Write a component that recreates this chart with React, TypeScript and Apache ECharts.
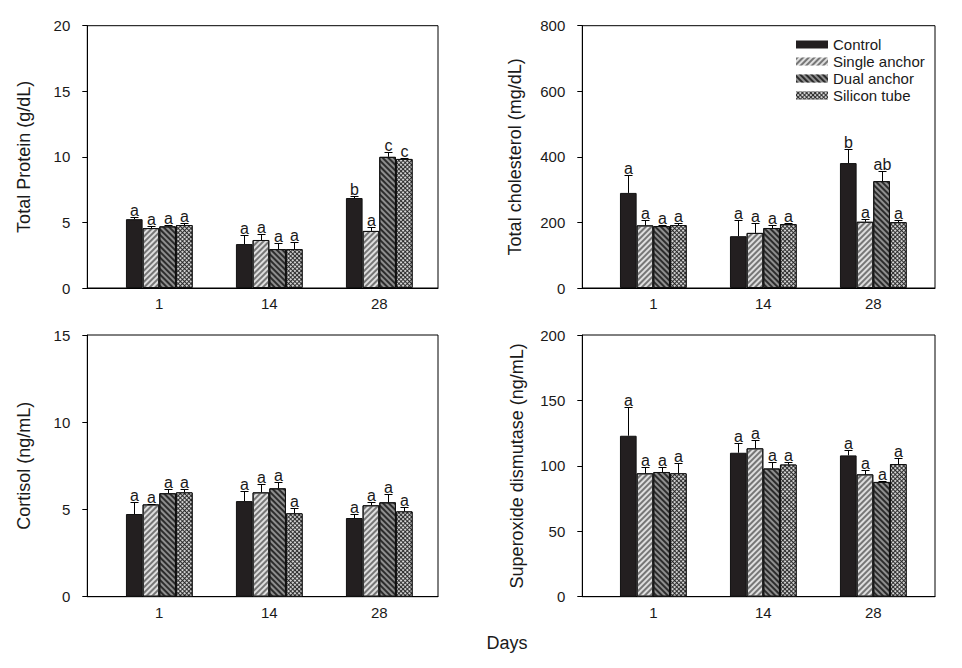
import React, { useEffect, useRef } from 'react';
import * as echarts from 'echarts';

// ---------- data ----------
const days = ['1', '14', '28'];
const groupNames = ['Control', 'Single anchor', 'Dual anchor', 'Silicon tube'];

// rows: groups (Control, Single, Dual, Silicon); columns: days 1, 14, 28
const proteinMean = [[5.25, 3.35, 6.86], [4.57, 3.66, 4.35], [4.7, 2.97, 10.0], [4.8, 2.97, 9.84]];
const proteinErr = [[0.13, 0.67, 0.13], [0.15, 0.44, 0.28], [0.08, 0.43, 0.36], [0.15, 0.5, 0.08]];
const proteinLetters = [['a', 'a', 'b'], ['a', 'a', 'a'], ['a', 'a', 'c'], ['a', 'a', 'c']];

const cholMean = [[290, 158, 381], [191, 168, 202], [189, 183, 326], [192, 195, 201]];
const cholErr = [[54, 49, 42], [16, 30, 7], [3, 8, 31], [5, 3, 6]];
const cholLetters = [['a', 'a', 'b'], ['a', 'a', 'a'], ['a', 'a', 'ab'], ['a', 'a', 'a']];

const cortMean = [[4.74, 5.48, 4.51], [5.29, 5.98, 5.24], [5.93, 6.21, 5.41], [5.98, 4.78, 4.89]];
const cortErr = [[0.67, 0.57, 0.21], [0.05, 0.5, 0.17], [0.23, 0.35, 0.5], [0.2, 0.29, 0.23]];
const cortLetters = [['a', 'a', 'a'], ['a', 'a', 'a'], ['a', 'a', 'a'], ['a', 'a', 'a']];

const sodMean = [[123, 110, 108], [94.3, 113.4, 93.5], [95.3, 98, 87.7], [94.3, 101, 101.4]];
const sodErr = [[22, 7.5, 4.3], [5, 6, 3.6], [4, 4.6, 0.8], [7.7, 2.3, 4.4]];
const sodLetters = [['a', 'a', 'a'], ['a', 'a', 'a'], ['a', 'a', 'a'], ['a', 'a', 'a']];

const yTitles = ['Total Protein (g/dL)', 'Total cholesterol (mg/dL)', 'Cortisol (ng/mL)', 'Superoxide dismutase (ng/mL)'];
const yMax = [20, 800, 15, 200];
const yInterval = [5, 200, 5, 50];

// ---------- layout / style ----------
const FONT = 'Liberation Sans, Arial, Helvetica, sans-serif';
const TXT = '#1a1a1a';
const BW = 16.67;

const panels = [
  { mean: proteinMean, err: proteinErr, letters: proteinLetters, grid: { left: 87.3, top: 25.7, width: 350.7, height: 262.3 }, xMin: -0.6545, xMax: 2.534, nameGap: 54 },
  { mean: cholMean, err: cholErr, letters: cholLetters, grid: { left: 582.3, top: 25.7, width: 352.7, height: 262.3 }, xMin: -0.6455, xMax: 2.561, nameGap: 58 },
  { mean: cortMean, err: cortErr, letters: cortLetters, grid: { left: 87.3, top: 335, width: 350.7, height: 261.7 }, xMin: -0.6545, xMax: 2.534, nameGap: 54 },
  { mean: sodMean, err: sodErr, letters: sodLetters, grid: { left: 582.3, top: 335, width: 352.7, height: 261.7 }, xMin: -0.6455, xMax: 2.561, nameGap: 56 },
];

// in the SVG renderer a negative decal rotation gives "/" stripes, a positive one "\" stripes
const barStyles: any[] = [
  { color: '#231f20' },
  { color: '#dedede', decal: { symbol: 'rect', symbolSize: 1, color: '#767676', dashArrayX: [1, 0], dashArrayY: [1.5, 1.5], rotation: -Math.PI / 4 } },
  { color: '#8e8e8e', decal: { symbol: 'rect', symbolSize: 1, color: '#2c2c2c', dashArrayX: [1, 0], dashArrayY: [1.5, 1.5], rotation: Math.PI / 4 } },
  { color: '#262626', decal: { symbol: 'circle', symbolSize: 1, color: '#f2f2f2', dashArrayX: [2, 1], dashArrayY: [2, 1], rotation: Math.PI / 4 } },
];

function buildOption() {
  const grids: any[] = [];
  const xAxes: any[] = [];
  const yAxes: any[] = [];
  const series: any[] = [];

  panels.forEach((p, i) => {
    grids.push({ ...p.grid, show: true, borderColor: '#000', borderWidth: 1, backgroundColor: 'transparent', containLabel: false });
    xAxes.push({
      type: 'value', gridIndex: i, min: p.xMin, max: p.xMax,
      axisLine: { show: true, onZero: false, lineStyle: { color: '#000', width: 1 } },
      axisTick: { show: false },
      splitLine: { show: false },
      axisLabel: {
        customValues: [0, 1, 2],
        formatter: (v: number) => days[Math.round(v)] ?? '',
        color: TXT, fontSize: 15, fontFamily: FONT, margin: 8,
      },
    });
    yAxes.push({
      type: 'value', gridIndex: i, min: 0, max: yMax[i], interval: yInterval[i],
      name: yTitles[i], nameLocation: 'middle', nameGap: p.nameGap,
      nameTextStyle: { color: TXT, fontSize: 18, fontFamily: FONT },
      axisLine: { show: true, onZero: false, lineStyle: { color: '#000', width: 1 } },
      axisTick: { show: true, inside: false, length: 5, lineStyle: { color: '#000', width: 1 } },
      splitLine: { show: false },
      axisLabel: { color: TXT, fontSize: 15, fontFamily: FONT, margin: 17 },
    });

    groupNames.forEach((name, s) => {
      series.push({
        type: 'bar', name, xAxisIndex: i, yAxisIndex: i,
        data: p.mean[s].map((v, g) => [g, v]),
        barWidth: BW, barGap: '0%',
        itemStyle: { ...barStyles[s], borderColor: '#111', borderWidth: 1 },
        silent: true,
      });
    });

    const errData: number[][] = [];
    groupNames.forEach((_, s) => {
      days.forEach((__, g) => {
        errData.push([g, s, p.mean[s][g], p.err[s][g]]);
      });
    });
    series.push({
      type: 'custom', xAxisIndex: i, yAxisIndex: i, z: 5, silent: true,
      data: errData,
      encode: { x: 0, y: 2 },
      renderItem: (params: any, api: any) => {
        const g = api.value(0);
        const s = api.value(1);
        const v = api.value(2);
        const e = api.value(3);
        const base = api.coord([g, v]);
        const top = api.coord([g, v + e]);
        const cx = Math.round(base[0] + (s - 1.5) * BW) + 0.5;
        const ty = Math.round(top[1]) + 0.5;
        const letter = p.letters[s][g];
        return {
          type: 'group',
          children: [
            { type: 'line', shape: { x1: cx, y1: base[1], x2: cx, y2: ty }, style: { stroke: '#000', lineWidth: 1 } },
            { type: 'line', shape: { x1: cx - 4, y1: ty, x2: cx + 4, y2: ty }, style: { stroke: '#000', lineWidth: 1 } },
            { type: 'text', x: cx, y: ty + 1, style: { text: letter, align: 'center', verticalAlign: 'bottom', font: '16px ' + FONT, fontSize: 16, fontFamily: FONT, fill: TXT } },
          ],
        };
      },
    });
  });

  return {
    animation: false,
    backgroundColor: '#fff',
    grid: grids,
    xAxis: xAxes,
    yAxis: yAxes,
    series,
    legend: {
      data: groupNames, orient: 'vertical', left: 791, top: 31, padding: 5,
      itemWidth: 32, itemHeight: 8, itemGap: 0, icon: 'rect', selectedMode: false,
      itemStyle: { borderWidth: 0 },
      textStyle: { color: TXT, fontSize: 15, lineHeight: 17, fontFamily: FONT },
    },
    graphic: [
      { type: 'text', x: 507, y: 643, style: { text: 'Days', align: 'center', verticalAlign: 'middle', fontSize: 18, fontFamily: FONT, fill: TXT } },
    ],
  };
}

export default function App() {
  const ref = useRef<HTMLDivElement>(null);
  useEffect(() => {
    if (!ref.current) return;
    const chart = echarts.init(ref.current, undefined, { renderer: 'svg' });
    chart.setOption(buildOption() as any);
    return () => chart.dispose();
  }, []);
  return <div ref={ref} style={{ position: 'absolute', left: 0, top: 0, width: 962, height: 668, background: '#fff' }} />;
}
